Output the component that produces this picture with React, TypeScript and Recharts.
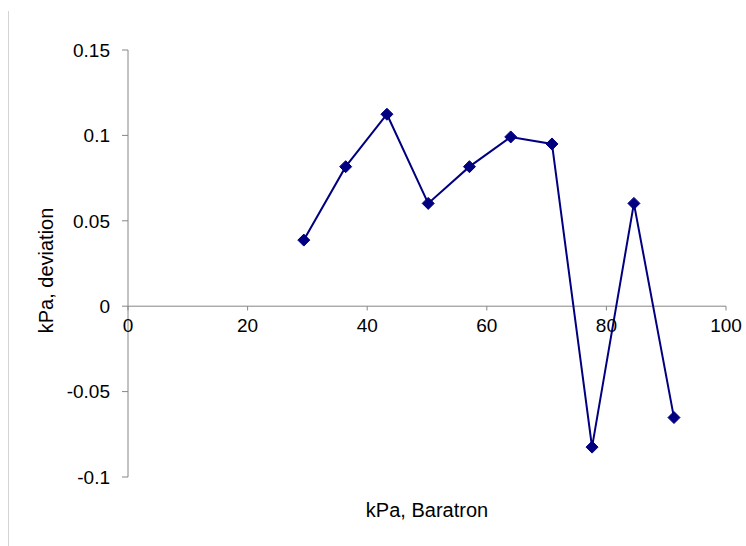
import React from "react";
import {
  LineChart,
  Line,
  XAxis,
  YAxis,
  ReferenceLine,
  ReferenceDot,
} from "recharts";

// Baratron reading (kPa) and the deviation measured at each reading (kPa)
const baratronKPa = [29.4, 36.4, 43.3, 50.2, 57.1, 64.0, 70.9, 77.6, 84.6, 91.3];
const deviationKPa = [0.0387, 0.0817, 0.1124, 0.0602, 0.0817, 0.0991, 0.095, -0.0825, 0.0602, -0.0652];

const xTicks = [0, 20, 40, 60, 80, 100];
const yTicks = [-0.1, -0.05, 0, 0.05, 0.1, 0.15];

const xTitle = "kPa, Baratron";
const yTitle = "kPa, deviation";

const data = baratronKPa.map((x, i) => ({ x, y: deviationKPa[i] }));

const FONT = "'Liberation Sans', Arial, sans-serif";
const AXIS = "#868686";
const NAVY = "#000080";

const Diamond = (props: any) => {
  const { cx, cy } = props;
  if (cx == null || cy == null) return null;
  const s = 6;
  return (
    <polygon
      points={`${cx},${cy - s} ${cx + s},${cy} ${cx},${cy + s} ${cx - s},${cy}`}
      fill={NAVY}
      stroke={NAVY}
      strokeWidth={1}
    />
  );
};

const XTitle = (props: any) => {
  const vb = props.viewBox;
  return (
    <text
      x={vb.x + vb.width / 2}
      y={vb.y + 40}
      textAnchor="middle"
      fontFamily={FONT}
      fontSize={20}
      fill="#000"
    >
      {xTitle}
    </text>
  );
};

const YTitle = (props: any) => {
  const vb = props.viewBox;
  const x = vb.x + 53;
  const y = vb.y + vb.height / 2 + 7;
  return (
    <text
      x={x}
      y={y}
      transform={`rotate(-90, ${x}, ${y})`}
      textAnchor="middle"
      fontFamily={FONT}
      fontSize={20}
      fill="#000"
    >
      {yTitle}
    </text>
  );
};

export default function App() {
  return (
    <div style={{ position: "absolute", left: 0, top: 0, width: 746, height: 546, background: "#fff" }}>
      <div
        style={{
          position: "absolute",
          left: 8,
          top: 11,
          height: 535,
          borderLeft: "1px solid #d4d4d4",
        }}
      />
      <LineChart
        width={746}
        height={546}
        data={data}
        margin={{ top: 50, right: 20, bottom: 0, left: 0 }}
        style={{ position: "absolute", left: 0, top: 0 }}
      >
        <XAxis
          dataKey="x"
          type="number"
          domain={[0, 100]}
          ticks={xTicks}
          height={69}
          axisLine={false}
          tickLine={false}
          tick={false}
          label={XTitle}
        />
        <YAxis
          type="number"
          domain={[-0.1, 0.15]}
          ticks={yTicks}
          width={128}
          interval={0}
          tickFormatter={(v: number) => String(v)}
          tickSize={6}
          tickMargin={12}
          axisLine={{ stroke: AXIS, strokeWidth: 1 }}
          tickLine={{ stroke: AXIS, strokeWidth: 1 }}
          tick={{ fill: "#000", fontSize: 19, fontFamily: FONT }}
          label={YTitle}
        />
        <ReferenceLine y={0} stroke={AXIS} strokeWidth={1} />
        {xTicks.map((t) => (
          <ReferenceLine
            key={`tl-${t}`}
            segment={[
              { x: t, y: 0 },
              { x: t, y: -0.0025 },
            ]}
            stroke={AXIS}
            strokeWidth={1}
          />
        ))}
        {xTicks.map((t) => (
          <ReferenceDot
            key={`lb-${t}`}
            x={t}
            y={0}
            r={0}
            fill="none"
            stroke="none"
            label={{
              value: String(t),
              position: "bottom",
              offset: 12,
              fill: "#000",
              fontSize: 19,
              fontFamily: FONT,
            }}
          />
        ))}
        <Line
          dataKey="y"
          type="linear"
          stroke={NAVY}
          strokeWidth={2}
          dot={<Diamond />}
          activeDot={false}
          isAnimationActive={false}
        />
      </LineChart>
    </div>
  );
}
